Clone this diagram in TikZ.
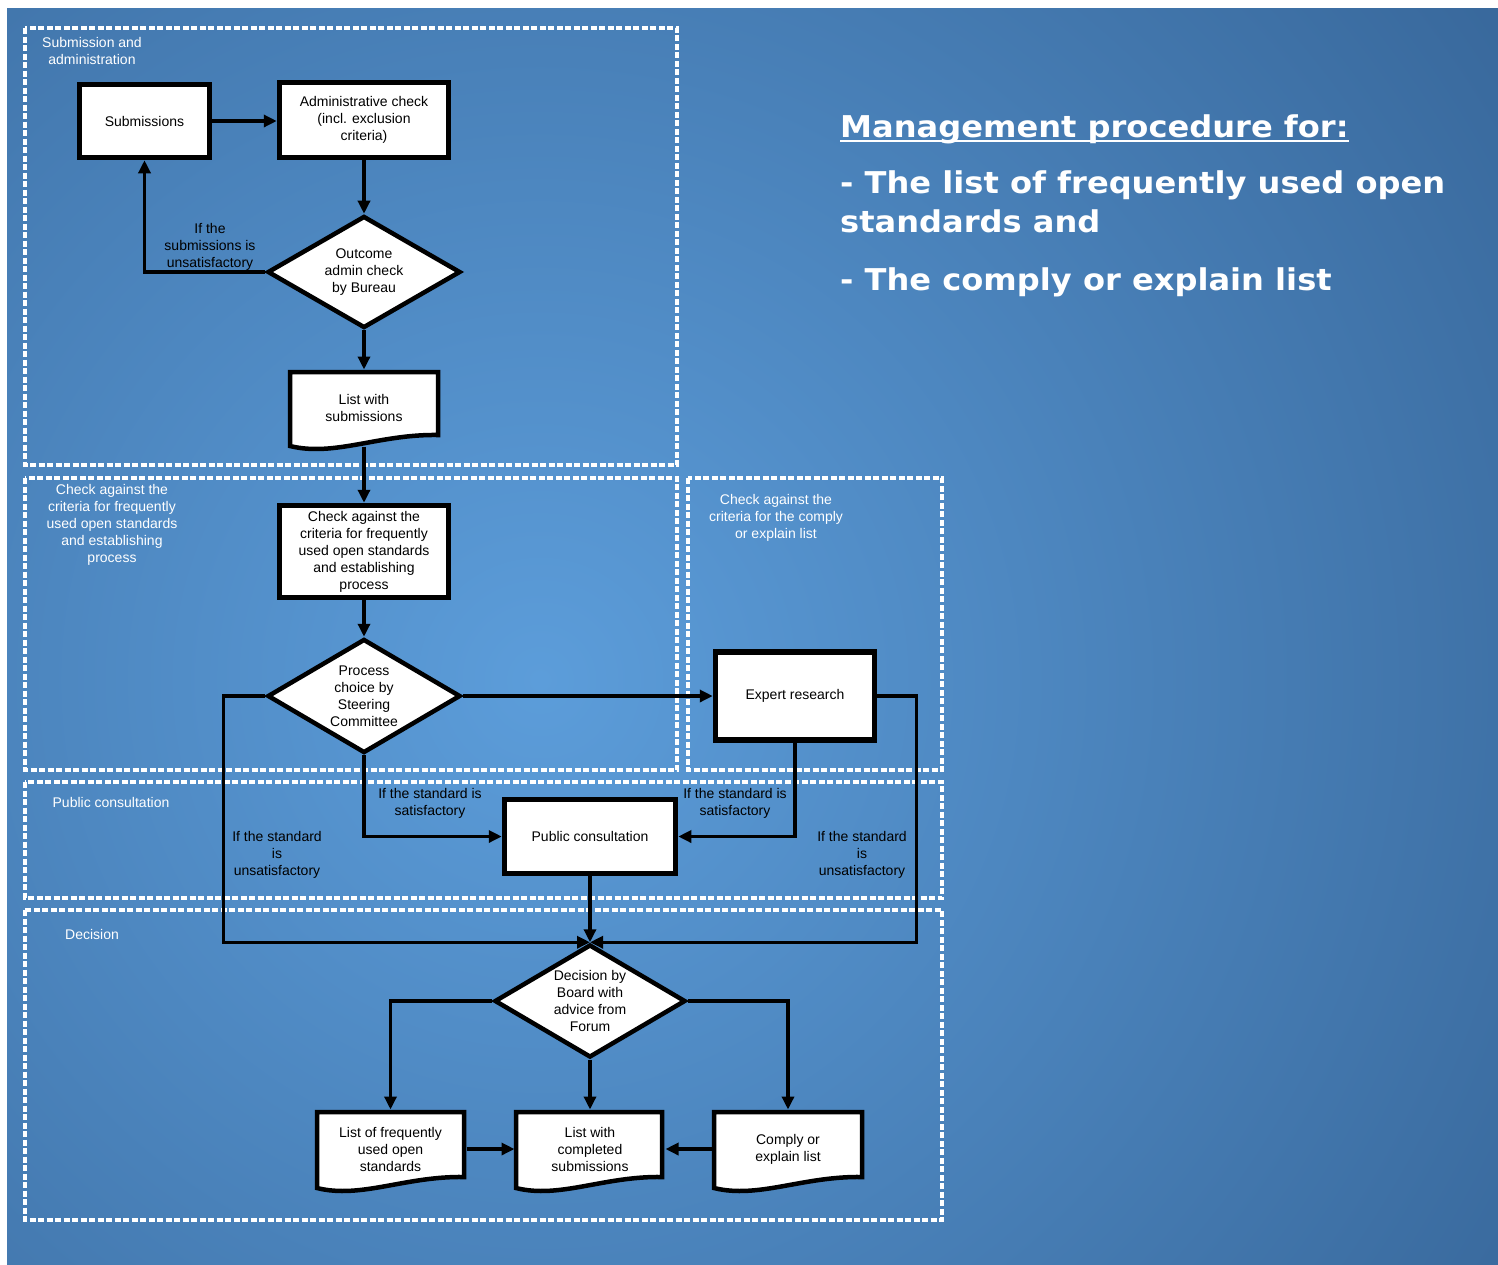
\documentclass[tikz,border=0pt]{standalone}
\usepackage{fontspec}
\setmainfont{Liberation Sans}
\newfontfamily\titlefont[FakeStretch=1.07]{DejaVu Sans}
\usetikzlibrary{shapes.geometric,arrows.meta}
\pgfdeclarelayer{bgl}
\pgfdeclarelayer{zonel}
\pgfdeclarelayer{connl}
\pgfsetlayers{bgl,zonel,connl,main}
\definecolor{bginner}{HTML}{5C9DDA}
\definecolor{bgouter}{HTML}{244A78}
\newcommand{\docpath}[4]{%
  \path[docline] (#1,#2) -- (#3,#2) -- (#3,#4-15)
    .. controls ({#3-0.4*(#3-#1)},{#4-16}) and ({#1+0.3*(#3-#1)},{#4+7}) .. (#1,#4-4) -- cycle;}
\begin{document}
\begin{tikzpicture}[x=1pt,y=-1pt,
  every node/.style={font=\fontsize{14}{17}\selectfont, align=center},
  box/.style={draw=black, fill=white, line width=5.5pt, rectangle, inner sep=2pt},
  dec/.style={draw=black, fill=white, line width=4.5pt, diamond, aspect=1.7, inner sep=0pt},
  doc/.style={rectangle, inner sep=0pt, outer sep=2.5pt},
  docline/.style={draw=black, fill=white, line width=4.5pt, line join=miter},
  arr/.style={line width=3.5pt, -{Triangle[length=13pt,width=12pt]}},
  zone/.style={draw=white, line width=4pt, dash pattern=on 6pt off 2.5pt},
  zonelabel/.style={text=white},
  cond/.style={text=black},
  titletext/.style={text=white, inner sep=0pt, anchor=base west, align=left,
    font=\titlefont\bfseries\fontsize{30}{36}\selectfont},
]
\useasboundingbox (0,0) rectangle (1498,1264);

% background
\begin{pgfonlayer}{bgl}
\fill[white] (0,0) rectangle (1498,1264);
\begin{scope}
\clip (7,8) rectangle (1498,1264);
\shade[inner color=bginner, outer color=bgouter] (540,680) circle (1850);
\end{scope}
\end{pgfonlayer}

% zones
\begin{pgfonlayer}{zonel}
\draw[zone] (25,28) rectangle (677,465);
\draw[zone] (25,478) rectangle (677,770);
\draw[zone] (688,478) rectangle (942,770);
\draw[zone] (25,782) rectangle (942,898);
\draw[zone] (25,910) rectangle (942,1220);
\end{pgfonlayer}

\node[zonelabel] (zl1) at (92,51) {Submission and\\administration};
\node[zonelabel] (zl2) at (112,525) {Check against the\\criteria for frequently\\used open standards\\and establishing\\process};
\node[zonelabel] (zl3) at (776,518) {Check against the\\criteria for the comply\\or explain list};
\node[zonelabel] (zl4) at (111,802) {Public consultation};
\node[zonelabel] (zl5) at (92,934) {Decision};

% nodes
\node[box, minimum width=130, minimum height=73] (sub) at (144.5,121) {Submissions};
\node[box, minimum width=169, minimum height=75] (adm) at (364,120) {Administrative check\\(incl. exclusion\\criteria)};
\node[dec, minimum width=193, minimum height=112] (out) at (364,272) {Outcome\\admin check\\by Bureau};

\docpath{290}{372}{438}{450}
\node[doc, minimum width=148, minimum height=72] (lws) at (364,408) {List with\\submissions};

\node[box, minimum width=169, minimum height=92] (chk) at (364,551.5) {Check against the\\criteria for frequently\\used open standards\\and establishing\\process};
\node[dec, minimum width=193, minimum height=114] (proc) at (364,696) {Process\\choice by\\Steering\\Committee};
\node[box, minimum width=159, minimum height=88] (exp) at (795,696) {Expert research};
\node[box, minimum width=171, minimum height=74] (pub) at (590,836.5) {Public consultation};
\node[dec, minimum width=191, minimum height=113] (dec) at (590,1001) {Decision by\\Board with\\advice from\\Forum};

\docpath{317}{1112}{464}{1192}
\node[doc, minimum width=147, minimum height=74] (lof) at (390.5,1149) {List of frequently\\used open\\standards};
\docpath{516}{1112}{662}{1192}
\node[doc, minimum width=146, minimum height=74] (lwc) at (590,1149) {List with\\completed\\submissions};
\docpath{714}{1112}{862}{1192}
\node[doc, minimum width=148, minimum height=74] (cel) at (788,1149) {Comply or\\explain list};

% connectors
\begin{pgfonlayer}{connl}
\draw[arr] (sub.east) -- (sub.east -| adm.west);
\draw[arr] (adm) -- (out);
\draw[arr] (out.west) -| (sub.south);
\draw[arr] (out) -- (lws);
\draw[arr] (lws.south) -- (chk.north);
\draw[arr] (chk) -- (proc);
\draw[arr] (proc.east) -- (exp.west);
\draw[arr] (proc.west) -- ++(-42,0) |- (dec.north);
\draw[arr] (exp.east) -- ++(39,0) |- (dec.north);
\draw[arr] (proc.south) |- (pub.west);
\draw[arr] (exp.south) |- (pub.east);
\draw[arr] (pub) -- (dec);
\draw[arr] (dec.west) -| (lof.north);
\draw[arr] (dec.south) -- (lwc.north);
\draw[arr] (dec.east) -| (cel.north);
\draw[arr] (lof.east) -- (lwc.west);
\draw[arr] (cel.west) -- (lwc.east);
\end{pgfonlayer}

% connector labels
\node[cond] (c1) at (210,247) {If the\\submissions is\\unsatisfactory};
\node[cond] (c2) at (430,803) {If the standard is\\satisfactory};
\node[cond] (c3) at (735,803) {If the standard is\\satisfactory};
\node[cond] (c4) at (277,855) {If the standard\\is\\unsatisfactory};
\node[cond] (c5) at (862,855) {If the standard\\is\\unsatisfactory};

% title text
\node[titletext] (t1) at (840,137) {Management procedure for:};
\draw[white, line width=2.5pt] ([yshift=-4pt]t1.base west) -- ([yshift=-4pt]t1.base east);
\node[titletext] (t2) at (840,193) {- The list of frequently used open};
\node[titletext] (t3) at (840,232) {standards and};
\node[titletext] (t4) at (840,290) {- The comply or explain list};
\end{tikzpicture}
\end{document}
